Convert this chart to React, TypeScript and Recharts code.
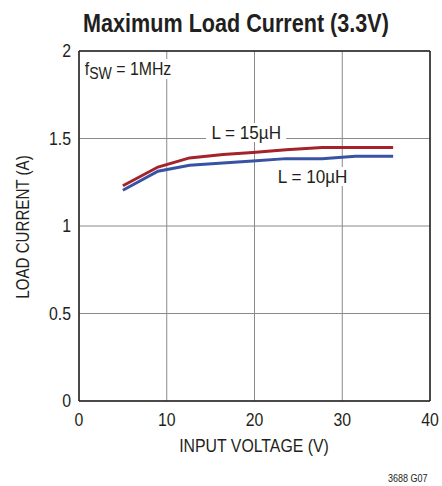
import { LineChart, Line, XAxis, YAxis, CartesianGrid, ReferenceLine } from 'recharts';

const inputVoltage = [5, 9, 12.6, 16.4, 19.8, 23.6, 27.7, 31.5, 35.8];
const current15uH = [1.23, 1.337, 1.389, 1.408, 1.42, 1.436, 1.448, 1.448, 1.448];
const current10uH = [1.204, 1.313, 1.347, 1.36, 1.371, 1.385, 1.385, 1.398, 1.398];
const xTicks = [0, 10, 20, 30, 40];
const yTicks = [0, 0.5, 1, 1.5, 2];

const data = inputVoltage.map((v, i) => ({ v, l15: current15uH[i], l10: current10uH[i] }));

const FONT = '"Liberation Sans", Arial, sans-serif';
const INK = '#231f20';

const XTick = ({ x, y, payload }: any) => (
  <text transform={`translate(${x},${y}) scale(0.88,1)`} textAnchor="middle" dy="0.71em" fill={INK} fontSize={18} fontFamily={FONT}>
    {payload.value}
  </text>
);

const YTick = ({ x, y, payload }: any) => (
  <text transform={`translate(${x},${y}) scale(0.88,1)`} textAnchor="end" dy="0.355em" fill={INK} fontSize={18} fontFamily={FONT}>
    {String(payload.value)}
  </text>
);

const narrow = (s: number, origin = 'left center') => ({ transform: `scaleX(${s})`, transformOrigin: origin, whiteSpace: 'nowrap' as const });

export default function App() {
  return (
    <div style={{ position: 'absolute', left: 0, top: 0, width: 442, height: 486, background: '#fff', fontFamily: FONT, color: INK }}>
      <div style={{ position: 'absolute', left: 0, width: 472, top: 7, textAlign: 'center', fontSize: 26, fontWeight: 'bold', lineHeight: '32px', ...narrow(0.83, '236px center') }}>
        Maximum Load Current (3.3V)
      </div>
      <LineChart
        width={442}
        height={486}
        data={data}
        margin={{ top: 51, right: 12, bottom: 33, left: 39 }}
      >
        <CartesianGrid stroke="#8a8a8a" strokeWidth={1} />
        <XAxis
          dataKey="v"
          type="number"
          domain={[0, 40]}
          ticks={xTicks}
          tickLine={false}
          tickSize={0}
          tickMargin={12}
          height={52}
          axisLine={{ stroke: INK, strokeWidth: 1.5 }}
          tick={<XTick />}
        />
        <YAxis
          type="number"
          domain={[0, 2]}
          ticks={yTicks}
          tickLine={false}
          tickSize={0}
          tickMargin={8}
          width={40}
          axisLine={{ stroke: INK, strokeWidth: 1.5 }}
          tick={<YTick />}
        />
        <ReferenceLine y={2} stroke={INK} strokeWidth={1.5} />
        <ReferenceLine x={40} stroke={INK} strokeWidth={1.5} />
        <Line dataKey="l15" stroke="#a3232b" strokeWidth={3} dot={false} isAnimationActive={false} />
        <Line dataKey="l10" stroke="#3953a4" strokeWidth={3} dot={false} isAnimationActive={false} />
      </LineChart>
      <div style={{ position: 'absolute', left: 254, top: 446, fontSize: 18, lineHeight: '20px', transform: 'translate(-50%,-50%) scaleX(0.88)', whiteSpace: 'nowrap' }}>
        INPUT VOLTAGE (V)
      </div>
      <div style={{ position: 'absolute', left: 23, top: 227, fontSize: 18, lineHeight: '20px', transform: 'translate(-50%,-50%) rotate(-90deg) scaleX(0.84)', whiteSpace: 'nowrap' }}>
        LOAD CURRENT (A)
      </div>
      <div style={{ position: 'absolute', left: 83, top: 59, fontSize: 18, lineHeight: '20px', background: '#fff', padding: '0 2px', ...narrow(0.88) }}>
        f<sub style={{ fontSize: 16, verticalAlign: '-4px', lineHeight: 0 }}>SW</sub> = 1MHz
      </div>
      <div style={{ position: 'absolute', left: 206, top: 123, fontSize: 19, background: '#fff', padding: '0 6px', lineHeight: '19px', ...narrow(0.9) }}>
        L = 15µH
      </div>
      <div style={{ position: 'absolute', left: 276, top: 167, fontSize: 19, background: '#fff', padding: '0 2px', lineHeight: '19px', ...narrow(0.9) }}>
        L = 10µH
      </div>
      <div style={{ position: 'absolute', left: 388, top: 472, fontSize: 11, ...narrow(0.82) }}>3688 G07</div>
    </div>
  );
}
